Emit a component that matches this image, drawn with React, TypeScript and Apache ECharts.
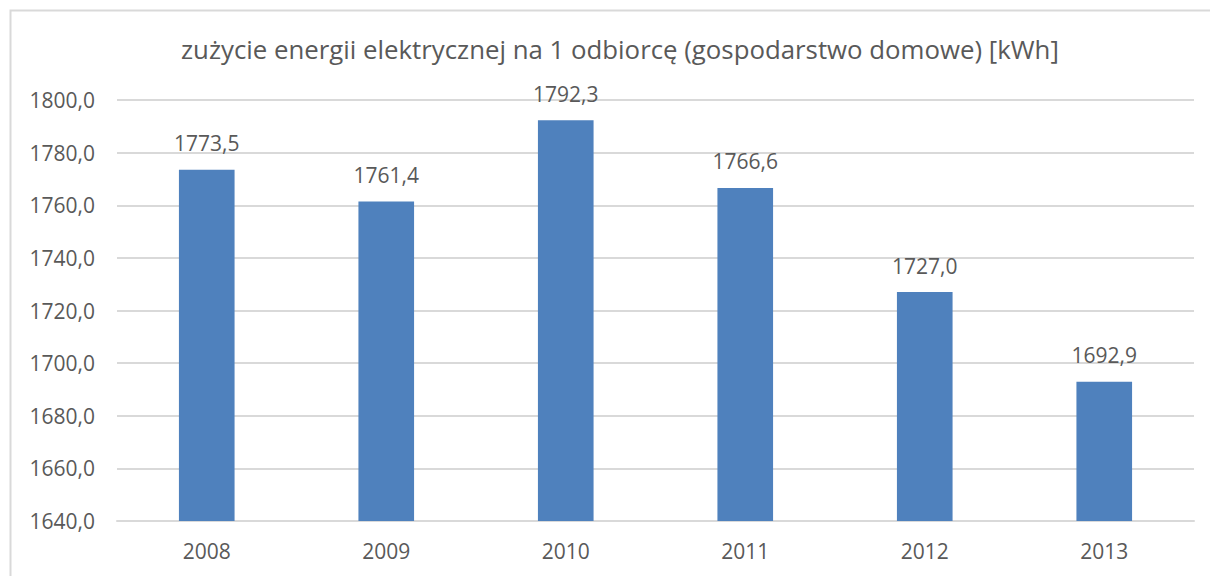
import React, { useEffect, useRef } from "react";
import * as echarts from "echarts";

const categories = ["2008", "2009", "2010", "2011", "2012", "2013"];
const values = [1773.5, 1761.4, 1792.3, 1766.6, 1727.0, 1692.9];
const yTicks = { min: 1640, max: 1800, interval: 20 };
const titleText = "zużycie energii elektrycznej na 1 odbiorcę (gospodarstwo domowe) [kWh]";

const fmt = (v: number) => v.toFixed(1).replace(".", ",");

export default function App() {
  const ref = useRef<HTMLDivElement>(null);
  useEffect(() => {
    if (!ref.current) return;
    const chart = echarts.init(ref.current, undefined, { renderer: "svg" });
    const font = "'Open Sans', sans-serif";
    chart.setOption({
      animation: false,
      backgroundColor: "#ffffff",
      title: {
        text: titleText,
        left: 176,
        top: 31,
        padding: 5,
        textStyle: { fontFamily: font, fontSize: 25.8, fontWeight: "normal", color: "#595959" },
      },
      graphic: [
        {
          type: "rect",
          shape: { x: 10.5, y: 10.5, width: 1220, height: 600 },
          style: { fill: "none", stroke: "#d9d9d9", lineWidth: 2 },
          silent: true,
        },
      ],
      grid: { left: 117, right: 16, top: 100, bottom: 55, containLabel: false },
      xAxis: {
        type: "category",
        data: categories,
        axisLine: { show: true, lineStyle: { color: "#d9d9d9", width: 2 } },
        axisTick: { show: false },
        axisLabel: { fontFamily: font, fontSize: 21, color: "#595959", margin: 19 },
      },
      yAxis: {
        type: "value",
        min: yTicks.min,
        max: yTicks.max,
        interval: yTicks.interval,
        axisLine: { show: false },
        axisTick: { show: false },
        splitLine: { lineStyle: { color: "#d9d9d9", width: 2 } },
        axisLabel: {
          fontFamily: font,
          fontSize: 21,
          color: "#595959",
          margin: 22,
          formatter: (v: number) => fmt(v),
        },
      },
      series: [
        {
          type: "bar",
          data: values,
          barWidth: "31%",
          itemStyle: { color: "#4f81bd" },
          label: {
            show: true,
            position: "top",
            distance: 16,
            fontFamily: font,
            fontSize: 21,
            color: "#595959",
            formatter: (p: any) => fmt(p.value),
          },
        },
      ],
    });
    return () => chart.dispose();
  }, []);
  return (
    <div
      ref={ref}
      style={{ position: "absolute", left: 0, top: 0, width: 1210, height: 576 }}
    />
  );
}
